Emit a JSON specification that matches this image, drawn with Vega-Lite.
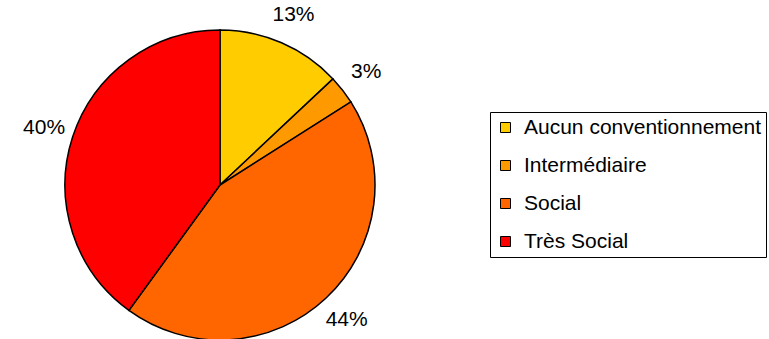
{
  "$schema": "https://vega.github.io/schema/vega-lite/v6.json",
  "width": 440,
  "height": 370,
  "autosize": "none",
  "padding": {"left": 0, "top": 0, "right": 329, "bottom": 0},
  "background": "white",
  "config": {"view": {"stroke": null}, "font": "Liberation Sans"},
  "data": {"values": [
    {"cat": "Aucun conventionnement", "pct": 13, "label": "13%", "idx": 1},
    {"cat": "Intermédiaire", "pct": 3, "label": "3%", "idx": 2},
    {"cat": "Social", "pct": 44, "label": "44%", "idx": 3},
    {"cat": "Très Social", "pct": 40, "label": "40%", "idx": 4}
  ]},
  "encoding": {
    "theta": {"field": "pct", "type": "quantitative", "stack": true},
    "order": {"field": "idx", "type": "quantitative"},
    "color": {
      "field": "cat", "type": "nominal",
      "scale": {"domain": ["Aucun conventionnement", "Intermédiaire", "Social", "Très Social"], "range": ["#FFCC00", "#FF9900", "#FF6600", "#FF0000"]},
      "legend": {
        "title": null, "orient": "none", "legendX": 490, "legendY": 112,
        "symbolType": "square", "symbolSize": 100, "symbolStrokeColor": "black", "symbolStrokeWidth": 1,
        "labelFontSize": 21, "labelFont": "Liberation Sans", "labelColor": "black", "labelLimit": 400,
        "rowPadding": 16, "padding": 5, "strokeColor": "black", "fillColor": "white", "labelOffset": 8
      }
    }
  },
  "layer": [
    {"mark": {"type": "arc", "outerRadius": 155, "stroke": "black", "strokeWidth": 1.5}},
    {"mark": {"type": "text", "radius": 185, "fontSize": 21, "font": "Liberation Sans", "fill": "black"},
     "encoding": {"text": {"field": "label"}, "color": {"value": "black"}}}
  ]
}
